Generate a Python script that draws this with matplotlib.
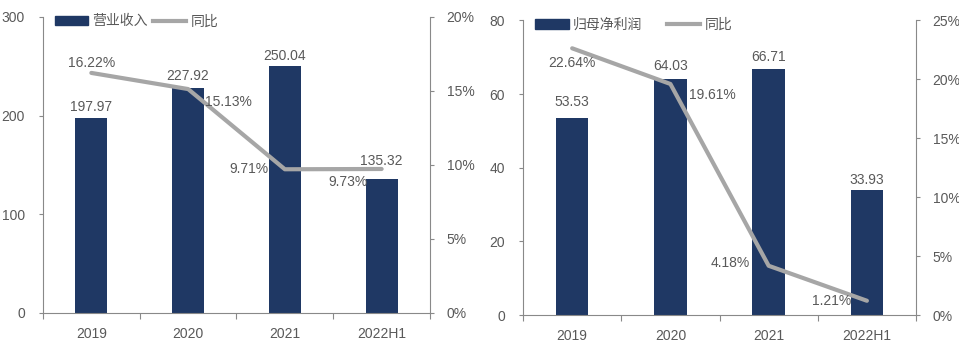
import matplotlib
matplotlib.use("Agg")
import matplotlib.pyplot as plt
from matplotlib.patches import Patch
from matplotlib.lines import Line2D

plt.rcParams['font.family'] = ['Liberation Sans', 'Noto Sans CJK SC', 'DejaVu Sans']

# 数据
years = ['2019', '2020', '2021', '2022H1']
revenue = [197.97, 227.92, 250.04, 135.32]
revenue_yoy = [16.22, 15.13, 9.71, 9.73]
profit = [53.53, 64.03, 66.71, 33.93]
profit_yoy = [22.64, 19.61, 4.18, 1.21]

# 标签偏移 (像素)
rev_bar_gap = [4, 5, 3, 11]
rev_yoy_off = [(0, 10), (40, -13), (-36, 0), (-34, -13)]
pro_bar_gap = [9, 6, 5, 3]
pro_yoy_off = [(0, -15), (42, -11), (-38, 3), (-35, 0)]

bar_color = '#1f3864'
line_color = '#a6a6a6'
txt_color = '#595959'
spine_color = '#898989'
fs = 10
px = 0.72  # 像素转点


def draw(fig, rect, vals, yoy, bar_gap, yoy_off, ymax, ystep, rmax, rstep, name, colsp):
    ax = fig.add_axes(rect)
    x = list(range(len(years)))
    ax.bar(x, vals, width=0.33, color=bar_color, zorder=2)
    for i, v in enumerate(vals):
        ax.annotate(f'{v:.2f}', (i, v), xytext=(0, bar_gap[i] * px), textcoords='offset points',
                    ha='center', va='bottom', fontsize=fs, color=txt_color)
    ax.set_xlim(-0.5, len(years) - 0.5)
    ax.set_ylim(0, ymax)
    ax.set_yticks(range(0, ymax + 1, ystep))
    ax.set_xticks([i - 0.5 for i in range(len(years) + 1)])
    ax.set_xticklabels([])
    ax.set_xticks(x, minor=True)
    ax.set_xticklabels(years, minor=True)
    ax.tick_params(axis='x', which='major', length=4, color=spine_color, direction='out')
    ax.tick_params(axis='x', which='minor', length=0, pad=10, labelsize=fs, labelcolor=txt_color)
    ax.tick_params(axis='y', length=3, color=spine_color, pad=10, labelsize=fs, labelcolor=txt_color)
    for s in ['top', 'right']:
        ax.spines[s].set_visible(False)
    for s in ['left', 'bottom']:
        ax.spines[s].set_color(spine_color)

    ax2 = ax.twinx()
    ax2.plot(x, yoy, color=line_color, lw=3, solid_capstyle='round', zorder=3)
    for i, v in enumerate(yoy):
        dx, dy = yoy_off[i]
        ax2.annotate(f'{v:.2f}%', (i, v), xytext=(dx * px, dy * px), textcoords='offset points',
                     ha='center', va='center', fontsize=fs, color=txt_color)
    ax2.set_ylim(0, rmax)
    ax2.set_yticks(range(0, rmax + 1, rstep))
    ax2.set_yticklabels([f'{t}%' for t in range(0, rmax + 1, rstep)])
    ax2.tick_params(axis='y', length=3, color=spine_color, pad=9, labelsize=fs, labelcolor=txt_color)
    for s in ['top', 'left', 'bottom']:
        ax2.spines[s].set_visible(False)
    ax2.spines['right'].set_color(spine_color)

    handles = [Patch(color=bar_color), Line2D([], [], color=line_color, lw=3)]
    leg = ax2.legend(handles, [name, '同比'], loc='center left', bbox_to_anchor=(0.031, 0.985),
                     ncol=2, frameon=False, fontsize=fs, handlelength=2.4, handleheight=0.7,
                     handletextpad=0.3, columnspacing=colsp, borderpad=0, borderaxespad=0)
    for t in leg.get_texts():
        t.set_color(txt_color)
    return ax, ax2


fig = plt.figure(figsize=(9.59, 3.62), dpi=100)
draw(fig, [0.0448, 0.1354, 0.4036, 0.8177], revenue, revenue_yoy, rev_bar_gap, rev_yoy_off,
     300, 100, 20, 5, '营业收入', 0.35)
draw(fig, [0.5454, 0.1298, 0.4098, 0.8136], profit, profit_yoy, pro_bar_gap, pro_yoy_off,
     80, 20, 25, 5, '归母净利润', 1.8)
fig.savefig('out.png', dpi=100)
